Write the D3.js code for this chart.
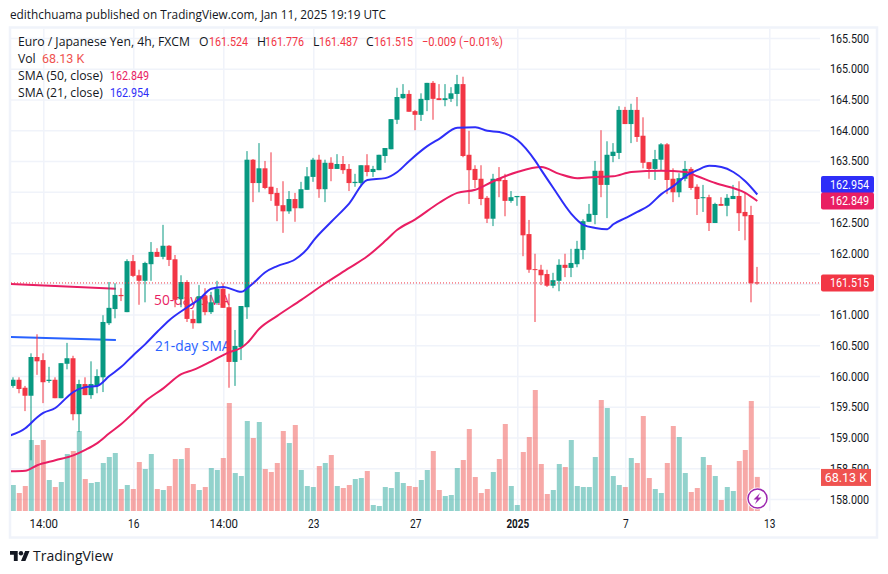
<!DOCTYPE html>
<html lang="en">
<head>
  <meta charset="utf-8" />
  <script src="https://d3js.org/d3.v7.min.js"></script>
  <style>
    body { margin: 0; background: #fff; }
    svg { display: block; font-family: "Open Sans", sans-serif; }
    .axis path, .grid path { display: none; }
    .grid line { stroke: #f0f3fa; stroke-width: 1.5px; }
    .grid text { display: none; }
    .axis text { fill: #131722; font-family: Roboto, sans-serif; font-size: 12.5px; }
  </style>
</head>
<body>
  <div id="chart"></div>
  <script>
    const open = [
      159.84, 159.94, 159.81, 159.68, 160.31, 160.26, 159.92, 159.94, 159.64, 160.20,
      160.29, 159.38, 159.87, 159.69, 159.84, 159.98, 160.86, 161.09, 161.32, 161.04,
      161.87, 161.64, 161.55, 161.82, 162.02, 161.94, 162.12, 161.90, 161.25, 161.53,
      160.93, 160.86, 161.30, 161.04, 161.19, 161.42, 161.12, 160.23, 160.47, 161.12,
      163.52, 163.14, 163.38, 163.08, 162.98, 162.78, 162.68, 162.88, 162.73, 163.03,
      163.24, 163.52, 163.04, 163.47, 163.37, 163.45, 163.37, 163.14, 163.14, 163.43,
      163.32, 163.35, 163.58, 163.69, 164.17, 164.52, 164.59, 164.31, 164.25, 164.49,
      164.77, 164.52, 164.49, 164.51, 164.59, 164.75, 163.60, 163.37, 163.21, 162.90,
      162.56, 163.22, 163.19, 162.85, 162.91, 162.93, 162.31, 161.74, 161.73, 161.66,
      161.47, 161.55, 161.81, 161.76, 161.82, 162.05, 162.51, 162.62, 163.34, 163.11,
      163.58, 163.63, 164.33, 164.10, 164.33, 163.91, 163.48, 163.37, 163.52, 163.77,
      163.21, 162.99, 163.21, 163.37, 163.08, 162.90, 162.91, 162.49, 162.80, 162.77,
      162.88, 162.93, 162.67, 162.62, 161.524
    ];
    const high = [
      159.98, 159.98, 159.84, 160.37, 160.68, 160.37, 160.15, 159.98, 160.21, 160.54,
      160.33, 159.94, 159.98, 160.24, 160.11, 160.99, 161.53, 161.51, 161.43, 161.90,
      161.97, 161.73, 161.86, 162.18, 162.08, 162.46, 162.13, 161.97, 161.64, 161.56,
      161.07, 161.48, 161.43, 161.37, 161.55, 161.51, 161.34, 160.75, 161.14, 163.66,
      163.53, 163.79, 163.50, 163.64, 163.06, 163.17, 163.01, 162.98, 163.16, 163.40,
      163.55, 163.60, 163.52, 163.56, 163.61, 163.58, 163.45, 163.29, 163.43, 163.61,
      163.42, 163.60, 163.71, 164.18, 164.69, 164.75, 164.65, 164.33, 164.60, 164.77,
      164.80, 164.75, 164.75, 164.70, 164.90, 164.87, 163.99, 163.43, 163.43, 162.93,
      163.29, 163.40, 163.29, 163.01, 162.93, 162.93, 162.54, 161.99, 161.81, 161.73,
      161.68, 161.90, 161.99, 162.07, 162.20, 162.55, 162.80, 163.50, 164.00, 163.82,
      163.79, 164.39, 164.38, 164.43, 164.54, 164.21, 163.48, 163.68, 163.79, 163.79,
      163.38, 163.30, 163.50, 163.40, 163.12, 163.11, 162.95, 162.82, 162.91, 162.96,
      163.11, 163.17, 162.99, 162.77, 161.776
    ];
    const low = [
      159.81, 159.72, 159.43, 158.63, 160.02, 159.56, 159.89, 159.64, 159.64, 160.11,
      159.28, 159.09, 159.69, 159.63, 159.72, 159.74, 160.83, 160.94, 161.22, 161.04,
      161.61, 161.16, 161.20, 161.55, 161.94, 161.90, 161.79, 161.12, 161.12, 160.88,
      160.77, 160.86, 160.99, 161.01, 161.16, 161.11, 159.81, 159.84, 160.26, 160.93,
      162.83, 162.99, 163.04, 162.85, 162.52, 162.33, 162.64, 162.51, 162.73, 163.03,
      163.16, 162.90, 162.83, 163.17, 163.37, 163.29, 163.01, 163.08, 163.09, 163.25,
      163.24, 163.35, 163.47, 163.69, 164.10, 164.51, 164.30, 164.00, 164.15, 164.31,
      164.17, 164.49, 164.39, 164.46, 164.39, 163.56, 162.80, 163.06, 162.78, 162.49,
      162.44, 162.91, 162.60, 162.82, 162.77, 161.95, 161.68, 160.88, 161.48, 161.45,
      161.43, 161.38, 161.61, 161.61, 161.77, 161.90, 162.51, 162.47, 162.91, 162.57,
      163.48, 163.53, 164.10, 163.79, 163.81, 163.38, 163.21, 163.19, 163.35, 162.96,
      162.83, 162.91, 163.17, 163.03, 162.62, 162.67, 162.36, 162.49, 162.77, 162.60,
      162.88, 162.36, 162.21, 161.20, 161.487
    ];
    const close = [
      159.94, 159.79, 159.68, 160.31, 160.24, 159.90, 159.94, 159.64, 160.21, 160.29,
      159.38, 159.87, 159.69, 159.87, 160.00, 160.88, 161.11, 161.32, 161.30, 161.87,
      161.63, 161.55, 161.84, 162.02, 161.94, 162.12, 161.89, 161.24, 161.53, 160.93,
      160.86, 161.30, 161.04, 161.20, 161.42, 161.11, 160.23, 160.49, 161.14, 163.52,
      163.14, 163.38, 163.06, 162.96, 162.77, 162.68, 162.88, 162.73, 163.04, 163.25,
      163.52, 163.04, 163.47, 163.37, 163.45, 163.35, 163.14, 163.16, 163.43, 163.32,
      163.37, 163.60, 163.71, 164.18, 164.54, 164.59, 164.30, 164.25, 164.51, 164.77,
      164.51, 164.49, 164.52, 164.60, 164.75, 163.58, 163.35, 163.19, 162.88, 162.56,
      163.21, 163.17, 162.85, 162.91, 162.93, 162.29, 161.73, 161.73, 161.64, 161.47,
      161.56, 161.81, 161.76, 161.84, 162.07, 162.52, 162.64, 163.34, 163.11, 163.60,
      163.65, 164.33, 164.10, 164.33, 163.89, 163.47, 163.37, 163.53, 163.77, 163.19,
      162.99, 163.22, 163.37, 163.06, 162.88, 162.91, 162.49, 162.80, 162.77, 162.90,
      162.93, 162.65, 162.60, 161.51, 161.515
    ];
    const volume = [
      52, 36, 50, 142, 132, 142, 62, 48, 58, 114,
      120, 160, 64, 56, 58, 96, 108, 116, 44, 52,
      44, 98, 84, 114, 44, 42, 50, 104, 104, 126,
      54, 42, 48, 86, 82, 106, 216, 76, 70, 180,
      146, 178, 84, 78, 96, 160, 136, 172, 82, 50,
      48, 90, 96, 112, 50, 46, 52, 64, 66, 80,
      12, 10, 48, 46, 78, 56, 50, 48, 62, 82,
      120, 42, 30, 32, 86, 102, 164, 68, 36, 44,
      78, 104, 174, 50, 12, 118, 148, 242, 94, 34,
      42, 94, 88, 142, 50, 48, 48, 108, 222, 206,
      70, 52, 48, 106, 96, 190, 66, 44, 36, 96,
      170, 148, 76, 38, 46, 108, 92, 70, 22, 48,
      40, 100, 122, 220, 68.13
    ];

    const sma21Index = [
      -1, 2, 4, 5, 7, 9, 10, 12, 14, 16, 18, 20, 22, 24, 26, 29, 31, 33, 35, 38, 39, 40,
      42, 44, 47, 49, 50, 53, 56, 59, 62, 64, 66, 69, 71, 74, 77, 79, 81, 84, 87, 88, 90,
      93, 95, 97, 99, 100, 102, 104, 106, 108, 110, 112, 114, 116, 118, 120, 122, 124
    ];
    const sma21 = [
      159.02, 159.15, 159.33, 159.40, 159.48, 159.66, 159.74, 159.82, 159.84, 160.00, 160.15, 160.34, 160.52, 160.72, 160.91, 161.12, 161.25, 161.42, 161.45, 161.37, 161.43, 161.51,
      161.69, 161.79, 161.90, 162.07, 162.20, 162.51, 162.81, 163.19, 163.22, 163.32, 163.50, 163.74, 163.86, 164.04, 164.05, 163.99, 163.97, 163.84, 163.50, 163.35, 163.06,
      162.64, 162.46, 162.41, 162.39, 162.47, 162.57, 162.67, 162.78, 162.96, 163.09, 163.25, 163.35, 163.42, 163.40, 163.32, 163.17, 162.954
    ];
    const sma50Index = [
      -1, 2, 4, 7, 10, 12, 14, 16, 18, 20, 22, 25, 28, 30, 33, 36, 38, 39, 41, 44, 48, 52,
      56, 59, 62, 64, 67, 71, 74, 77, 80, 84, 88, 91, 94, 97, 100, 103, 108, 112, 114, 117, 122, 124
    ];
    const sma50 = [
      158.45, 158.46, 158.55, 158.63, 158.71, 158.80, 158.91, 159.07, 159.22, 159.40, 159.59, 159.80, 160.03, 160.10, 160.24, 160.39, 160.46, 160.54, 160.77, 160.98, 161.24, 161.51,
      161.76, 161.95, 162.20, 162.38, 162.55, 162.82, 162.98, 163.03, 163.17, 163.32, 163.40, 163.29, 163.22, 163.24, 163.25, 163.32, 163.34, 163.32, 163.25, 163.14, 162.98, 162.849
    ];

    // drawn-on trend marks from the published chart
    const markIndex = [-0.55, 17.1];
    const mark50 = [161.50, 161.42];
    const mark21 = [160.635, 160.586];

    const priceTicks = [165.5, 165, 164.5, 164, 163.5, 163, 162.5, 162, 161.5, 161, 160.5, 160, 159.5, 159, 158.5, 158];
    // 163.000 and 161.500 sit under the price tags, so no label
    const priceLabels = [165.5, 165, 164.5, 164, 163.5, 162.5, 162, 161, 160.5, 160, 159.5, 159, 158.5, 158];
    const timeTicks = [5, 20, 35, 50, 67, 84, 102, 126];
    const timeLabels = ["14:00", "16", "14:00", "23", "27", "2025", "7", "13"];

    const upColor = "#089981", downColor = "#f23645";
    const upVol = "#26a69a", downVol = "#ef5350";
    const blue = "#2e2ef8", pink = "#e91e63";
    const lastPrice = close[close.length - 1];

    const width = 888, height = 574;
    const plot = { left: 11, right: 820, top: 29, bottom: 511 };

    const bars = open.map((o, i) => ({ i, o, h: high[i], l: low[i], c: close[i], v: volume[i] }));

    const x = d3.scaleLinear().domain([0, 124]).range([13.3, 757.3]);
    const y = d3.scaleLinear().domain([158, 165.5]).range([499, 38]);
    const yVol = d3.scaleLinear().domain([0, 242]).range([plot.bottom, plot.bottom - 121]);

    // prices in the picture are narrower than any installed face at that height
    const priceWidth = 39;
    const numeric = sel => sel
      .style("font-family", "Roboto, sans-serif")
      .attr("textLength", priceWidth)
      .attr("lengthAdjust", "spacingAndGlyphs");

    const svg = d3.select("#chart").append("svg")
      .attr("width", width)
      .attr("height", height);

    svg.append("defs").append("clipPath").attr("id", "plot")
      .append("rect")
      .attr("x", plot.left).attr("y", plot.top)
      .attr("width", plot.right - plot.left).attr("height", plot.bottom - plot.top);

    // outer frame
    svg.append("rect")
      .attr("x", 10).attr("y", 27.5)
      .attr("width", 867).attr("height", 510)
      .attr("fill", "none")
      .attr("stroke", "#f0f3fa")
      .attr("stroke-width", 2.5);

    svg.append("g").attr("class", "grid")
      .attr("transform", `translate(0,${plot.bottom})`)
      .call(d3.axisBottom(x).tickValues(timeTicks).tickSize(-(plot.bottom - plot.top)));

    svg.append("g").attr("class", "grid")
      .attr("transform", `translate(${plot.left},0)`)
      .call(d3.axisRight(y).tickValues(priceTicks).tickSize(plot.right - plot.left));

    const chart = svg.append("g").attr("clip-path", "url(#plot)");

    chart.selectAll(".vol")
      .data(bars)
      .enter().append("rect")
      .attr("class", "vol")
      .attr("x", d => x(d.i) - 2.5)
      .attr("width", 5)
      .attr("y", d => yVol(d.v))
      .attr("height", d => yVol(0) - yVol(d.v))
      .attr("fill", d => d.c >= d.o ? upVol : downVol)
      .attr("fill-opacity", 0.5);

    chart.append("text")
      .attr("x", 154).attr("y", 305)
      .attr("fill", pink)
      .style("font-size", "13.8px")
      .text("50-day SMA");

    chart.append("text")
      .attr("x", 155).attr("y", 351)
      .attr("fill", "#2962ff")
      .style("font-size", "13.8px")
      .text("21-day SMA");

    const markLine = d3.line()
      .x((d, i) => x(markIndex[i]))
      .y(d => y(d));

    chart.append("path")
      .attr("d", markLine(mark50))
      .attr("fill", "none").attr("stroke", pink).attr("stroke-width", 2);

    chart.append("path")
      .attr("d", markLine(mark21))
      .attr("fill", "none").attr("stroke", "#2962ff").attr("stroke-width", 2);

    const candle = chart.selectAll(".candle")
      .data(bars)
      .enter().append("g")
      .attr("class", "candle")
      .attr("fill", d => d.c >= d.o ? upColor : downColor);

    candle.append("rect")
      .attr("x", d => Math.round(x(d.i)) - 0.5)
      .attr("width", 1)
      .attr("y", d => y(d.h))
      .attr("height", d => y(d.l) - y(d.h));

    candle.append("rect")
      .attr("x", d => Math.round(x(d.i)) - 2.5)
      .attr("width", 5)
      .attr("y", d => y(Math.max(d.o, d.c)))
      .attr("height", d => Math.max(1, Math.abs(y(d.o) - y(d.c))));

    const smaLine = (idx) => d3.line()
      .x((d, i) => x(idx[i]))
      .y(d => y(d))
      .curve(d3.curveMonotoneX);

    chart.append("path")
      .attr("d", smaLine(sma50Index)(sma50))
      .attr("fill", "none").attr("stroke", pink).attr("stroke-width", 2);

    chart.append("path")
      .attr("d", smaLine(sma21Index)(sma21))
      .attr("fill", "none").attr("stroke", blue).attr("stroke-width", 2);

    chart.append("line")
      .attr("x1", plot.left).attr("x2", plot.right)
      .attr("y1", y(lastPrice)).attr("y2", y(lastPrice))
      .attr("stroke", downColor)
      .attr("stroke-width", 1)
      .attr("stroke-dasharray", "1 2");

    // axes
    const priceAxis = svg.append("g").attr("class", "axis")
      .attr("transform", "translate(830,0)")
      .call(d3.axisRight(y).tickValues(priceLabels).tickSize(0).tickPadding(0).tickFormat(d3.format(".3f")));
    priceAxis.selectAll("text").call(numeric);

    const timeAxis = svg.append("g").attr("class", "axis")
      .attr("transform", `translate(0,${plot.bottom})`)
      .call(d3.axisBottom(x).tickValues(timeTicks).tickSize(0).tickPadding(8).tickFormat((d, i) => timeLabels[i]));
    timeAxis.selectAll("text")
      .attr("lengthAdjust", "spacingAndGlyphs")
      .attr("textLength", (d, i) => timeLabels[i].length * 5.7)
      .filter((d, i) => timeLabels[i] === "2025").style("font-weight", "700");

    // price tags on the right, blue one is pushed up so the two do not overlap
    const tags = [
      { text: "162.954", value: sma21[sma21.length - 1], fill: blue, shift: -10 },
      { text: "162.849", value: sma50[sma50.length - 1], fill: pink, shift: 0 },
      { text: "161.515", value: lastPrice, fill: downColor, shift: 0 }
    ];
    const tag = svg.selectAll(".tag")
      .data(tags)
      .enter().append("g")
      .attr("class", "tag")
      .attr("transform", d => `translate(821,${y(d.value) - 8.5 + d.shift})`);
    tag.append("rect")
      .attr("width", 53).attr("height", 17).attr("rx", 2)
      .attr("fill", d => d.fill);
    tag.append("text")
      .attr("x", 9).attr("y", 13)
      .attr("fill", "#fff")
      .style("font-size", "12.5px")
      .text(d => d.text)
      .call(numeric);

    const volTag = svg.append("g")
      .attr("transform", `translate(821,${yVol(volume[volume.length - 1]) - 8})`);
    volTag.append("rect")
      .attr("width", 50).attr("height", 17)
      .attr("fill", downVol);
    volTag.append("text")
      .attr("x", 46).attr("y", 13)
      .attr("text-anchor", "end")
      .attr("fill", "#fff")
      .style("font-family", "Roboto, sans-serif")
      .style("font-size", "12.5px")
      .text("68.13 K");

    // lightning badge
    const badge = svg.append("g").attr("transform", "translate(757.5,498.5)");
    badge.append("circle").attr("r", 11).attr("fill", "#fff");
    badge.append("circle").attr("r", 9.5).attr("fill", "#fff").attr("stroke", "#9c27b0").attr("stroke-width", 1.5);
    badge.append("path")
      .attr("d", "M2.5 -5.5L-4 1H-0.5L-2.5 5.5L4 -1H0.5Z")
      .attr("fill", "#9c27b0");

    // header and legend text
    svg.append("text")
      .attr("x", 10).attr("y", 19)
      .attr("fill", "#131722")
      .style("font-size", "11.8px")
      .text("edithchuama published on TradingView.com, Jan 11, 2025 19:19 UTC");

    const ink = "#131722";
    const ohlcLetters = [["O", 199], ["H", 257], ["L", 313], ["C", 366]];
    const ohlcValues = [["161.524", 209], ["161.776", 265], ["161.487", 319], ["161.515", 374]];

    svg.append("text")
      .attr("x", 18).attr("y", 46)
      .attr("fill", ink)
      .style("font-size", "12.2px")
      .text("Euro / Japanese Yen, 4h, FXCM");

    svg.selectAll(".ohlc-letter")
      .data(ohlcLetters)
      .enter().append("text")
      .attr("class", "ohlc-letter")
      .attr("x", d => d[1]).attr("y", 46)
      .attr("fill", ink)
      .style("font-size", "12.2px")
      .text(d => d[0]);

    svg.selectAll(".ohlc-value")
      .data(ohlcValues)
      .enter().append("text")
      .attr("class", "ohlc-value")
      .attr("x", d => d[1]).attr("y", 46)
      .attr("fill", downColor)
      .style("font-size", "12.5px")
      .text(d => d[0])
      .call(numeric);

    svg.append("text")
      .attr("x", 422).attr("y", 46)
      .attr("fill", downColor)
      .style("font-family", "Roboto, sans-serif")
      .style("font-size", "12.5px")
      .attr("textLength", 81)
      .attr("lengthAdjust", "spacingAndGlyphs")
      .text("−0.009 (−0.01%)");

    const legendLabels = [["Vol", 63], ["SMA (50, close)", 80], ["SMA (21, close)", 97]];
    svg.selectAll(".legend")
      .data(legendLabels)
      .enter().append("text")
      .attr("class", "legend")
      .attr("x", 18).attr("y", d => d[1])
      .attr("fill", ink)
      .style("font-size", "12.2px")
      .text(d => d[0]);

    svg.append("text")
      .attr("x", 42).attr("y", 63)
      .attr("fill", downVol)
      .style("font-family", "Roboto, sans-serif")
      .style("font-size", "12.5px")
      .text("68.13 K");

    const legendValues = [["162.849", 80, pink], ["162.954", 97, blue]];
    svg.selectAll(".legend-value")
      .data(legendValues)
      .enter().append("text")
      .attr("class", "legend-value")
      .attr("x", 110).attr("y", d => d[1])
      .attr("fill", d => d[2])
      .style("font-size", "12.5px")
      .text(d => d[0])
      .call(numeric);

    // footer logo
    const logo = svg.append("g").attr("transform", "translate(10,548.8) scale(0.55)").attr("fill", ink);
    logo.append("path").attr("d", "M14 22H7V11H0V4h14v18zM28 22h-8l7.5-18h8L28 22z");
    logo.append("circle").attr("cx", 20).attr("cy", 8).attr("r", 4);

    svg.append("text")
      .attr("x", 33).attr("y", 561)
      .attr("fill", ink)
      .style("font-size", "14px")
      .text("TradingView");
  </script>
</body>
</html>
